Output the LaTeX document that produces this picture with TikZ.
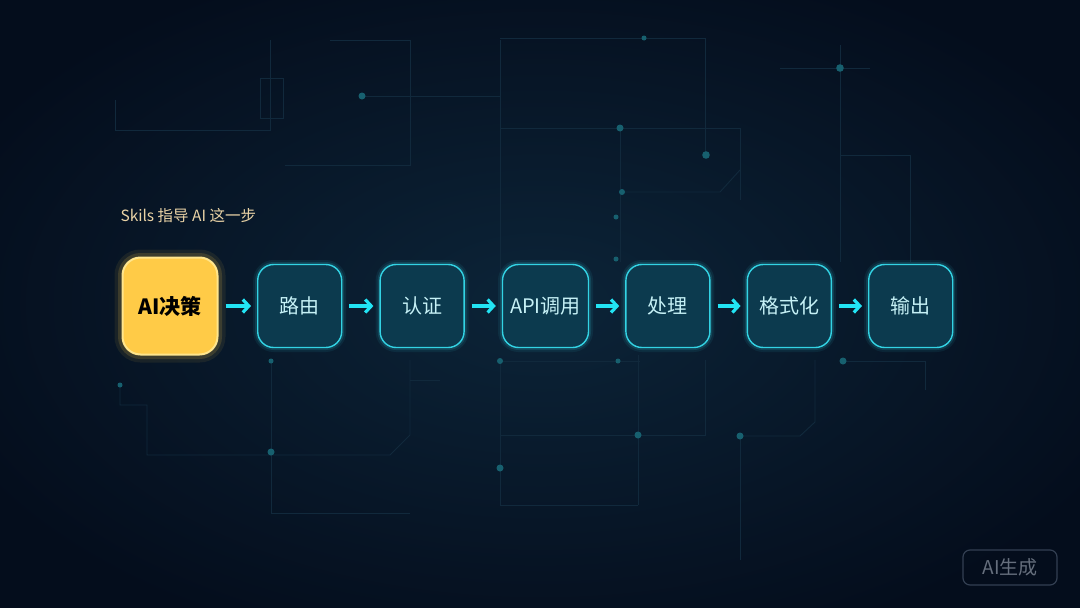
\documentclass[tikz,border=0pt]{standalone}
\usepackage{fontspec}
\setmainfont{Noto Sans CJK SC}
\usetikzlibrary{positioning,arrows.meta}
\definecolor{bgdark}{HTML}{040D1C}
\definecolor{bgmid}{HTML}{0C2438}
\definecolor{trace}{HTML}{11293C}
\definecolor{tracedot}{HTML}{17606F}
\definecolor{cyanline}{HTML}{33D3E4}
\definecolor{cyanfill}{HTML}{0C3A4E}
\definecolor{cyantext}{HTML}{C6F1F6}
\definecolor{arrowcyan}{HTML}{22E4F4}
\definecolor{goldfill}{HTML}{FFCB47}
\definecolor{goldline}{HTML}{FFE58C}
\definecolor{beige}{HTML}{EAD3A6}
\definecolor{markgray}{HTML}{333F52}
\tikzset{
    stepbox/.style={draw=cyanline,fill=cyanfill,line width=1.4pt,rounded corners=16pt,
        minimum width=84pt,minimum height=83pt,text=cyantext,font=\fontsize{20}{24}\selectfont,
        preaction={draw=cyanline,line width=9pt,opacity=0.08},
        preaction={draw=cyanline,line width=5pt,opacity=0.15}},
    hotbox/.style={draw=goldline,fill=goldfill,line width=2pt,rounded corners=18pt,
        minimum width=95pt,minimum height=97pt,text=black,font=\fontsize{21}{25}\selectfont\bfseries,
        preaction={draw=goldfill,line width=16pt,opacity=0.08},
        preaction={draw=goldfill,line width=9pt,opacity=0.15}},
    flow/.style={draw=arrowcyan,line width=3.6pt,shorten <=7pt,shorten >=6pt,
        -{Straight Barb[length=6pt,width=13pt,line width=3.2pt]}},
    wire/.style={draw=trace,line width=0.9pt},
    pad/.style={fill=tracedot}
}
\begin{document}
\begin{tikzpicture}[x=1pt,y=-1pt]
    % background
    \useasboundingbox (0,0) rectangle (1080,608);
    \clip (0,0) rectangle (1080,608);
    \fill[bgdark] (0,0) rectangle (1080,608);
    \shade[inner color=bgmid,outer color=bgdark] (-100,-60) rectangle (1180,668);
    % faint circuit traces
    \draw[wire] (115,100) -- (115,130) -- (270,130) -- (270,40);
    \draw[wire] (260,78) rectangle (283,118);
    \draw[wire] (285,165) -- (410,165) -- (410,40) -- (330,40);
    \draw[wire] (362,96) -- (500,96);
    \draw[wire] (500,40) -- (500,270);
    \draw[wire] (500,38) -- (705,38) -- (705,155);
    \draw[wire] (500,128) -- (740,128) -- (740,200);
    \draw[wire] (620,128) -- (620,262);
    \draw[wire] (622,192) -- (720,192) -- (740,170);
    \draw[wire] (780,68) -- (870,68);
    \draw[wire] (840,45) -- (840,262);
    \draw[wire] (840,155) -- (910,155) -- (910,262);
    \draw[wire] (120,385) -- (120,405) -- (147,405) -- (147,455) -- (390,455) -- (410,435) -- (410,360);
    \draw[wire] (271,361) -- (271,513) -- (410,513);
    \draw[wire] (410,380) -- (440,380);
    \draw[wire] (500,361) -- (500,505) -- (638,505);
    \draw[wire] (500,361) -- (640,361);
    \draw[wire] (638,355) -- (638,505);
    \draw[wire] (500,435) -- (705,435) -- (705,360);
    \draw[wire] (740,436) -- (800,436) -- (815,422) -- (815,360);
    \draw[wire] (740,436) -- (740,560);
    \draw[wire] (843,361) -- (925,361) -- (925,390);
    \foreach \px/\py/\r in {362/96/3.5,644/38/2.5,620/128/3.5,706/155/3.8,840/68/3.8,
        622/192/3,616/217/2.5,616/259/2.5,271/361/2.5,271/452/3.5,500/361/3,500/468/3.5,
        618/361/2.5,638/435/3.5,740/436/3.5,843/361/3.5,120/385/2.5}
        \fill[pad] (\px,\py) circle [radius=\r];
    % caption over first step
    \node[anchor=west,text=beige,font=\fontsize{15.5}{18}\selectfont] (note) at (117,216) {Skils 指导 AI 这一步};
    % steps
    \node[hotbox] (decide) at (170,306) {AI决策};
    \node[stepbox,right=38.5pt of decide] (route) {路由};
    \node[stepbox,right=37pt of route] (auth) {认证};
    \node[stepbox,right=37pt of auth,minimum width=86pt] (apicall) {API调用};
    \node[stepbox,right=36pt of apicall] (handle) {处理};
    \node[stepbox,right=36pt of handle] (format) {格式化};
    \node[stepbox,right=36pt of format] (output) {输出};
    \draw[flow] (decide) -- (route);
    \draw[flow] (route) -- (auth);
    \draw[flow] (auth) -- (apicall);
    \draw[flow] (apicall) -- (handle);
    \draw[flow] (handle) -- (format);
    \draw[flow] (format) -- (output);
    % watermark
    \node[draw=markgray,line width=1.2pt,rounded corners=7pt,minimum width=94pt,minimum height=35pt,
        text=markgray!75!white,font=\fontsize{19}{22}\selectfont] (mark) at (1010,567.5) {AI生成};
\end{tikzpicture}
\end{document}
